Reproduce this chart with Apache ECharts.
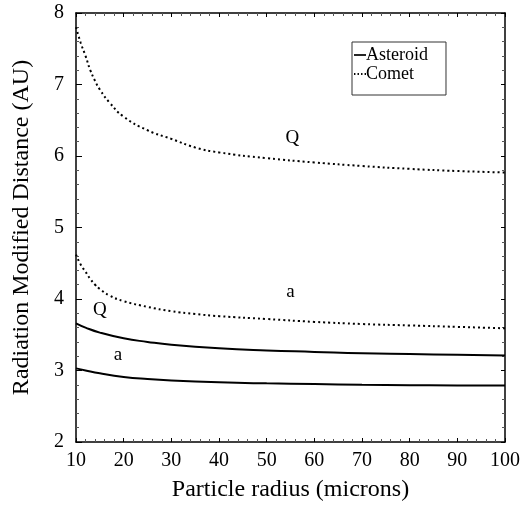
<!DOCTYPE html>
<html><head><meta charset="utf-8">
<script src="https://cdn.jsdelivr.net/npm/echarts@6/dist/echarts.min.js"></script>
<style>html,body{margin:0;padding:0;background:#fff}#c{width:528px;height:515px}</style>
</head><body><div id="c"></div>
<script>
var cometQx = [10, 11, 12, 13, 14, 15, 17, 20, 25, 30, 35, 40, 50, 60, 70, 80, 90, 100];
var cometQy = [7.8, 7.58, 7.4, 7.2, 7.05, 6.93, 6.75, 6.55, 6.36, 6.24, 6.12, 6.05, 5.97, 5.91, 5.86, 5.82, 5.79, 5.77];
var cometAx = [10, 11, 12, 13, 14, 15, 17, 20, 25, 30, 35, 40, 50, 60, 70, 80, 90, 100];
var cometAy = [4.62, 4.48, 4.38, 4.28, 4.2, 4.14, 4.05, 3.97, 3.89, 3.83, 3.79, 3.76, 3.72, 3.68, 3.65, 3.63, 3.61, 3.59];
var asterQx = [10, 12, 15, 20, 25, 30, 40, 50, 60, 70, 80, 90, 100];
var asterQy = [3.66, 3.6, 3.53, 3.45, 3.4, 3.36, 3.31, 3.28, 3.26, 3.24, 3.23, 3.22, 3.21];
var asterAx = [10, 12, 15, 20, 25, 30, 40, 50, 60, 70, 80, 90, 100];
var asterAy = [3.03, 3.0, 2.96, 2.91, 2.88, 2.86, 2.835, 2.82, 2.81, 2.8, 2.795, 2.79, 2.79];
var labels = ['Q', 'a', 'Q', 'a'];
var labelX = [55.4, 55, 15, 18.8];
var labelY = [6.25, 4.10, 3.85, 3.22];

function pairs(xs, ys) { return xs.map(function (x, i) { return [x, ys[i]]; }); }
var F = '"Liberation Serif", "DejaVu Serif", serif';
function lbl(i) {
  return {
    coord: [labelX[i], labelY[i]], symbol: 'circle', symbolSize: 1,
    itemStyle: { color: 'rgba(0,0,0,0)' },
    label: { show: true, formatter: labels[i], color: '#000', fontFamily: F, fontSize: 19, position: 'inside' }
  };
}
var chart = echarts.init(document.getElementById('c'));
chart.setOption({
  animation: false,
  backgroundColor: '#fff',
  grid: { left: 76, top: 13, right: 23, bottom: 73 },
  legend: {
    data: [
      { name: 'Asteroid', icon: 'path://M0 0h14v2h-14z' },
      { name: 'Comet', icon: 'path://M0 0h1.6v2h-1.6zM4 0h1.6v2h-1.6zM8 0h1.6v2h-1.6zM12 0h1.6v2h-1.6z' }
    ],
    orient: 'vertical', left: 352, top: 42,
    borderColor: '#333', borderWidth: 1,
    padding: [4, 18, 12, 2],
    itemWidth: 12, itemHeight: 2, itemGap: 1,
    textStyle: { fontFamily: F, fontSize: 18, color: '#000', padding: [0, 0, 0, -5] }
  },
  xAxis: [{
    type: 'value', min: 10, max: 100, interval: 10,
    name: 'Particle radius (microns)', nameLocation: 'middle', nameGap: 36,
    nameTextStyle: { fontFamily: F, fontSize: 24, color: '#000' },
    axisLine: { lineStyle: { color: '#000', width: 1.5 } },
    axisTick: { inside: true, length: 4, lineStyle: { color: '#000' } },
    minorTick: { show: true, splitNumber: 5, length: 3, lineStyle: { color: '#555' } },
    axisLabel: { fontFamily: F, fontSize: 20, color: '#000', margin: 9 },
    splitLine: { show: false }
  }, {
    type: 'value', min: 10, max: 100, interval: 10, position: 'top',
    axisLine: { show: true, lineStyle: { color: '#000', width: 1.5 } },
    axisTick: { inside: true, length: 4, lineStyle: { color: '#000' } },
    minorTick: { show: true, splitNumber: 5, length: 3, lineStyle: { color: '#555' } },
    axisLabel: { show: false }, splitLine: { show: false }
  }],
  yAxis: [{
    type: 'value', min: 2, max: 8, interval: 1,
    name: 'Radiation Modified Distance (AU)', nameLocation: 'middle', nameGap: 42,
    nameTextStyle: { fontFamily: F, fontSize: 24, color: '#000' },
    axisLine: { show: true, lineStyle: { color: '#000', width: 1.5 } },
    axisTick: { inside: true, length: 6, lineStyle: { color: '#000' } },
    minorTick: { show: true, splitNumber: 5, length: 3, lineStyle: { color: '#555' } },
    axisLabel: { fontFamily: F, fontSize: 20, color: '#000', margin: 12 },
    splitLine: { show: false }
  }, {
    type: 'value', min: 2, max: 8, interval: 1, position: 'right',
    axisLine: { show: true, lineStyle: { color: '#000', width: 1.5 } },
    axisTick: { inside: true, length: 4, lineStyle: { color: '#000' } },
    minorTick: { show: true, splitNumber: 5, length: 3, lineStyle: { color: '#555' } },
    axisLabel: { show: false }, splitLine: { show: false }
  }],
  series: [
    { name: 'Asteroid', type: 'line', smooth: true, symbol: 'none', data: pairs(asterQx, asterQy),
      lineStyle: { color: '#000', width: 2 }, itemStyle: { color: '#000' },
      markPoint: { data: [lbl(2)] } },
    { name: 'Asteroid', type: 'line', smooth: true, symbol: 'none', data: pairs(asterAx, asterAy),
      lineStyle: { color: '#000', width: 2 }, itemStyle: { color: '#000' },
      markPoint: { data: [lbl(3)] } },
    { name: 'Comet', type: 'line', smooth: true, symbol: 'none', data: pairs(cometQx, cometQy),
      lineStyle: { color: '#000', width: 2, type: [2, 3] }, itemStyle: { color: '#000' },
      markPoint: { data: [lbl(0)] } },
    { name: 'Comet', type: 'line', smooth: true, symbol: 'none', data: pairs(cometAx, cometAy),
      lineStyle: { color: '#000', width: 2, type: [2, 3] }, itemStyle: { color: '#000' },
      markPoint: { data: [lbl(1)] } }
  ]
});
</script></body></html>
